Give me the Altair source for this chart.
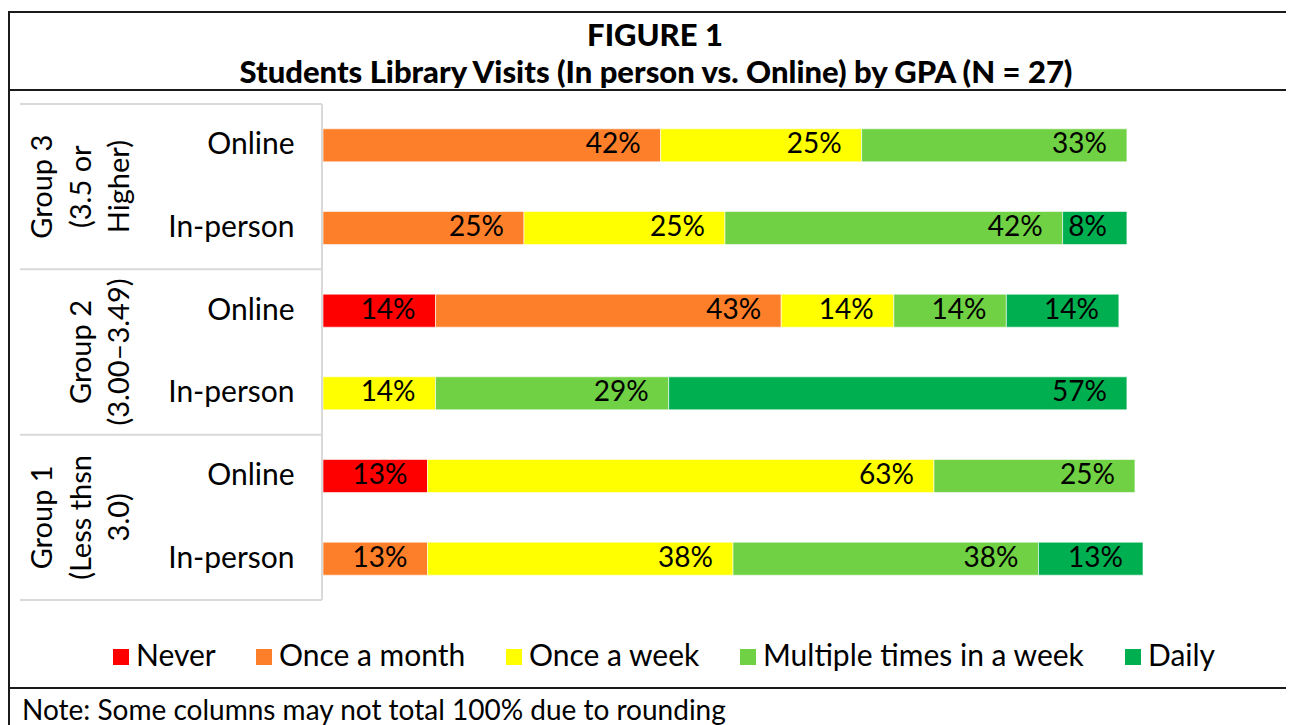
import altair as alt
import pandas as pd

# ---------------- data ----------------
categories = ["Never", "Once a month", "Once a week", "Multiple times in a week", "Daily"]
colors = ["#FF0000", "#FE7F2A", "#FFFF00", "#6FD143", "#00B050"]

groups = ["Group 3", "Group 3", "Group 2", "Group 2", "Group 1", "Group 1"]
modes = ["Online", "In-person", "Online", "In-person", "Online", "In-person"]

never = [0, 0, 14, 0, 13, 0]
once_month = [42, 25, 43, 0, 0, 13]
once_week = [25, 25, 14, 14, 63, 38]
multiple_week = [33, 42, 14, 29, 25, 38]
daily = [0, 8, 14, 57, 0, 13]

group_names = ["Group 3", "Group 2", "Group 1"]
group_lines = [["Group 3", "(3.5 or", "Higher)"],
               ["Group 2", "(3.00\u20133.49)"],
               ["Group 1", "(Less thsn", "3.0)"]]

title_1 = "FIGURE 1"
title_2 = "Students Library Visits (In person vs. Online) by GPA (N = 27)"
note = "Note: Some columns may not total 100% due to rounding"

# ---------------- table ----------------
series = [never, once_month, once_week, multiple_week, daily]
rows = []
row_order = []
for i, (g, m) in enumerate(zip(groups, modes)):
    key = f"{g}|{m}"
    row_order.append(key)
    start = 0
    for c_idx, (cat, vals) in enumerate(zip(categories, series)):
        v = vals[i]
        if v > 0:
            rows.append({"row": key, "category": cat, "order": c_idx,
                         "start": start, "end": start + v, "label": f"{v}%"})
        start += v
df = pd.DataFrame(rows)

# ---------------- layout ----------------
W, H = 820, 496
PAD_L, PAD_T, PAD_R, PAD_B = 315, 96, 143, 125
RIGHT = W + PAD_R
BOTTOM = H + PAD_B
FONT = "Lato"

one = alt.Data(values=[{"a": 1}])

y_enc = alt.Y("row:N", sort=row_order,
              scale=alt.Scale(paddingInner=0.6, paddingOuter=0.3),
              axis=alt.Axis(title=None, ticks=False, domain=False, grid=False,
                            labelExpr="split(datum.label, '|')[1]",
                            labelFontSize=30, labelFont=FONT, labelColor="black",
                            labelPadding=29, labelAlign="right"))
x_scale = alt.Scale(domain=[0, 102], nice=False, zero=True)

bars = alt.Chart(df).mark_bar(stroke="white", strokeWidth=0.6).encode(
    x=alt.X("start:Q", scale=x_scale, axis=None),
    x2="end:Q",
    y=y_enc,
    color=alt.Color("category:N",
                    scale=alt.Scale(domain=categories, range=colors),
                    legend=alt.Legend(title=None, orient="none", direction="horizontal",
                                      legendX=-217, legendY=538,
                                      symbolType="square", symbolSize=256,
                                      symbolStrokeWidth=0, symbolOpacity=1,
                                      labelFontSize=30, labelFont=FONT, labelColor="black",
                                      labelLimit=600, labelOffset=0, columnPadding=33,
                                      padding=0)),
    order=alt.Order("order:Q"),
)

bar_text = alt.Chart(df).mark_text(align="right", baseline="middle", dx=-20,
                                   fontSize=28, font=FONT, color="black").encode(
    x=alt.X("end:Q", scale=x_scale, axis=None),
    y=y_enc,
    text="label:N",
)


def hrule(py, x1, x2, color, w):
    return alt.Chart(one).mark_rule(color=color, strokeWidth=w).encode(
        x=alt.value(x1), x2=alt.value(x2), y=alt.value(py))


def vrule(px, y1, y2, color, w):
    return alt.Chart(one).mark_rule(color=color, strokeWidth=w).encode(
        x=alt.value(px), y=alt.value(y1), y2=alt.value(y2))


def text(s, px, py, **kw):
    return alt.Chart(one).mark_text(text=s, **kw).encode(
        x=alt.value(px), y=alt.value(py))


layers = [bars, bar_text]

# black frame lines
BLACK = "#1a1a1a"
layers += [hrule(-92, -PAD_L, RIGHT, BLACK, 2),
           hrule(-14, -PAD_L, RIGHT, BLACK, 2),
           hrule(584, -PAD_L, RIGHT, BLACK, 2),
           vrule(-314, -92, BOTTOM, BLACK, 2)]

# grey category table lines
GREY = "#D9D9D9"
for k in range(4):
    layers.append(hrule(k * H / 3, -303, -1, GREY, 2))
layers.append(vrule(-1, 0, H, GREY, 2))

# rotated group labels
line_x = [-280, -241, -203]
for gi, lines in enumerate(group_lines):
    cy = (gi + 0.5) * H / 3
    offset = 3 - len(lines)
    for li, s in enumerate(lines):
        layers.append(text(s, line_x[li + offset], cy, angle=270, align="center",
                           baseline="middle", fontSize=29, font=FONT, color="black"))

# titles and note
layers.append(text(title_1, 332, -67, align="center", baseline="middle",
                   fontSize=31, fontWeight=900, font=FONT, color="black"))
layers.append(text(title_2, 333, -30, align="center", baseline="middle",
                   fontSize=31, fontWeight=900, font=FONT, color="black"))
layers.append(text(note, -301, 616, align="left", baseline="alphabetic",
                   fontSize=28, font=FONT, color="black"))

chart = alt.layer(*layers).properties(
    width=W, height=H,
    padding={"left": PAD_L, "top": PAD_T, "right": PAD_R, "bottom": PAD_B},
    autosize=alt.AutoSizeParams(type="none"),
    background="white",
).configure_view(stroke=None)

chart.save("out.html", embed_options={"renderer": "svg", "actions": False})
